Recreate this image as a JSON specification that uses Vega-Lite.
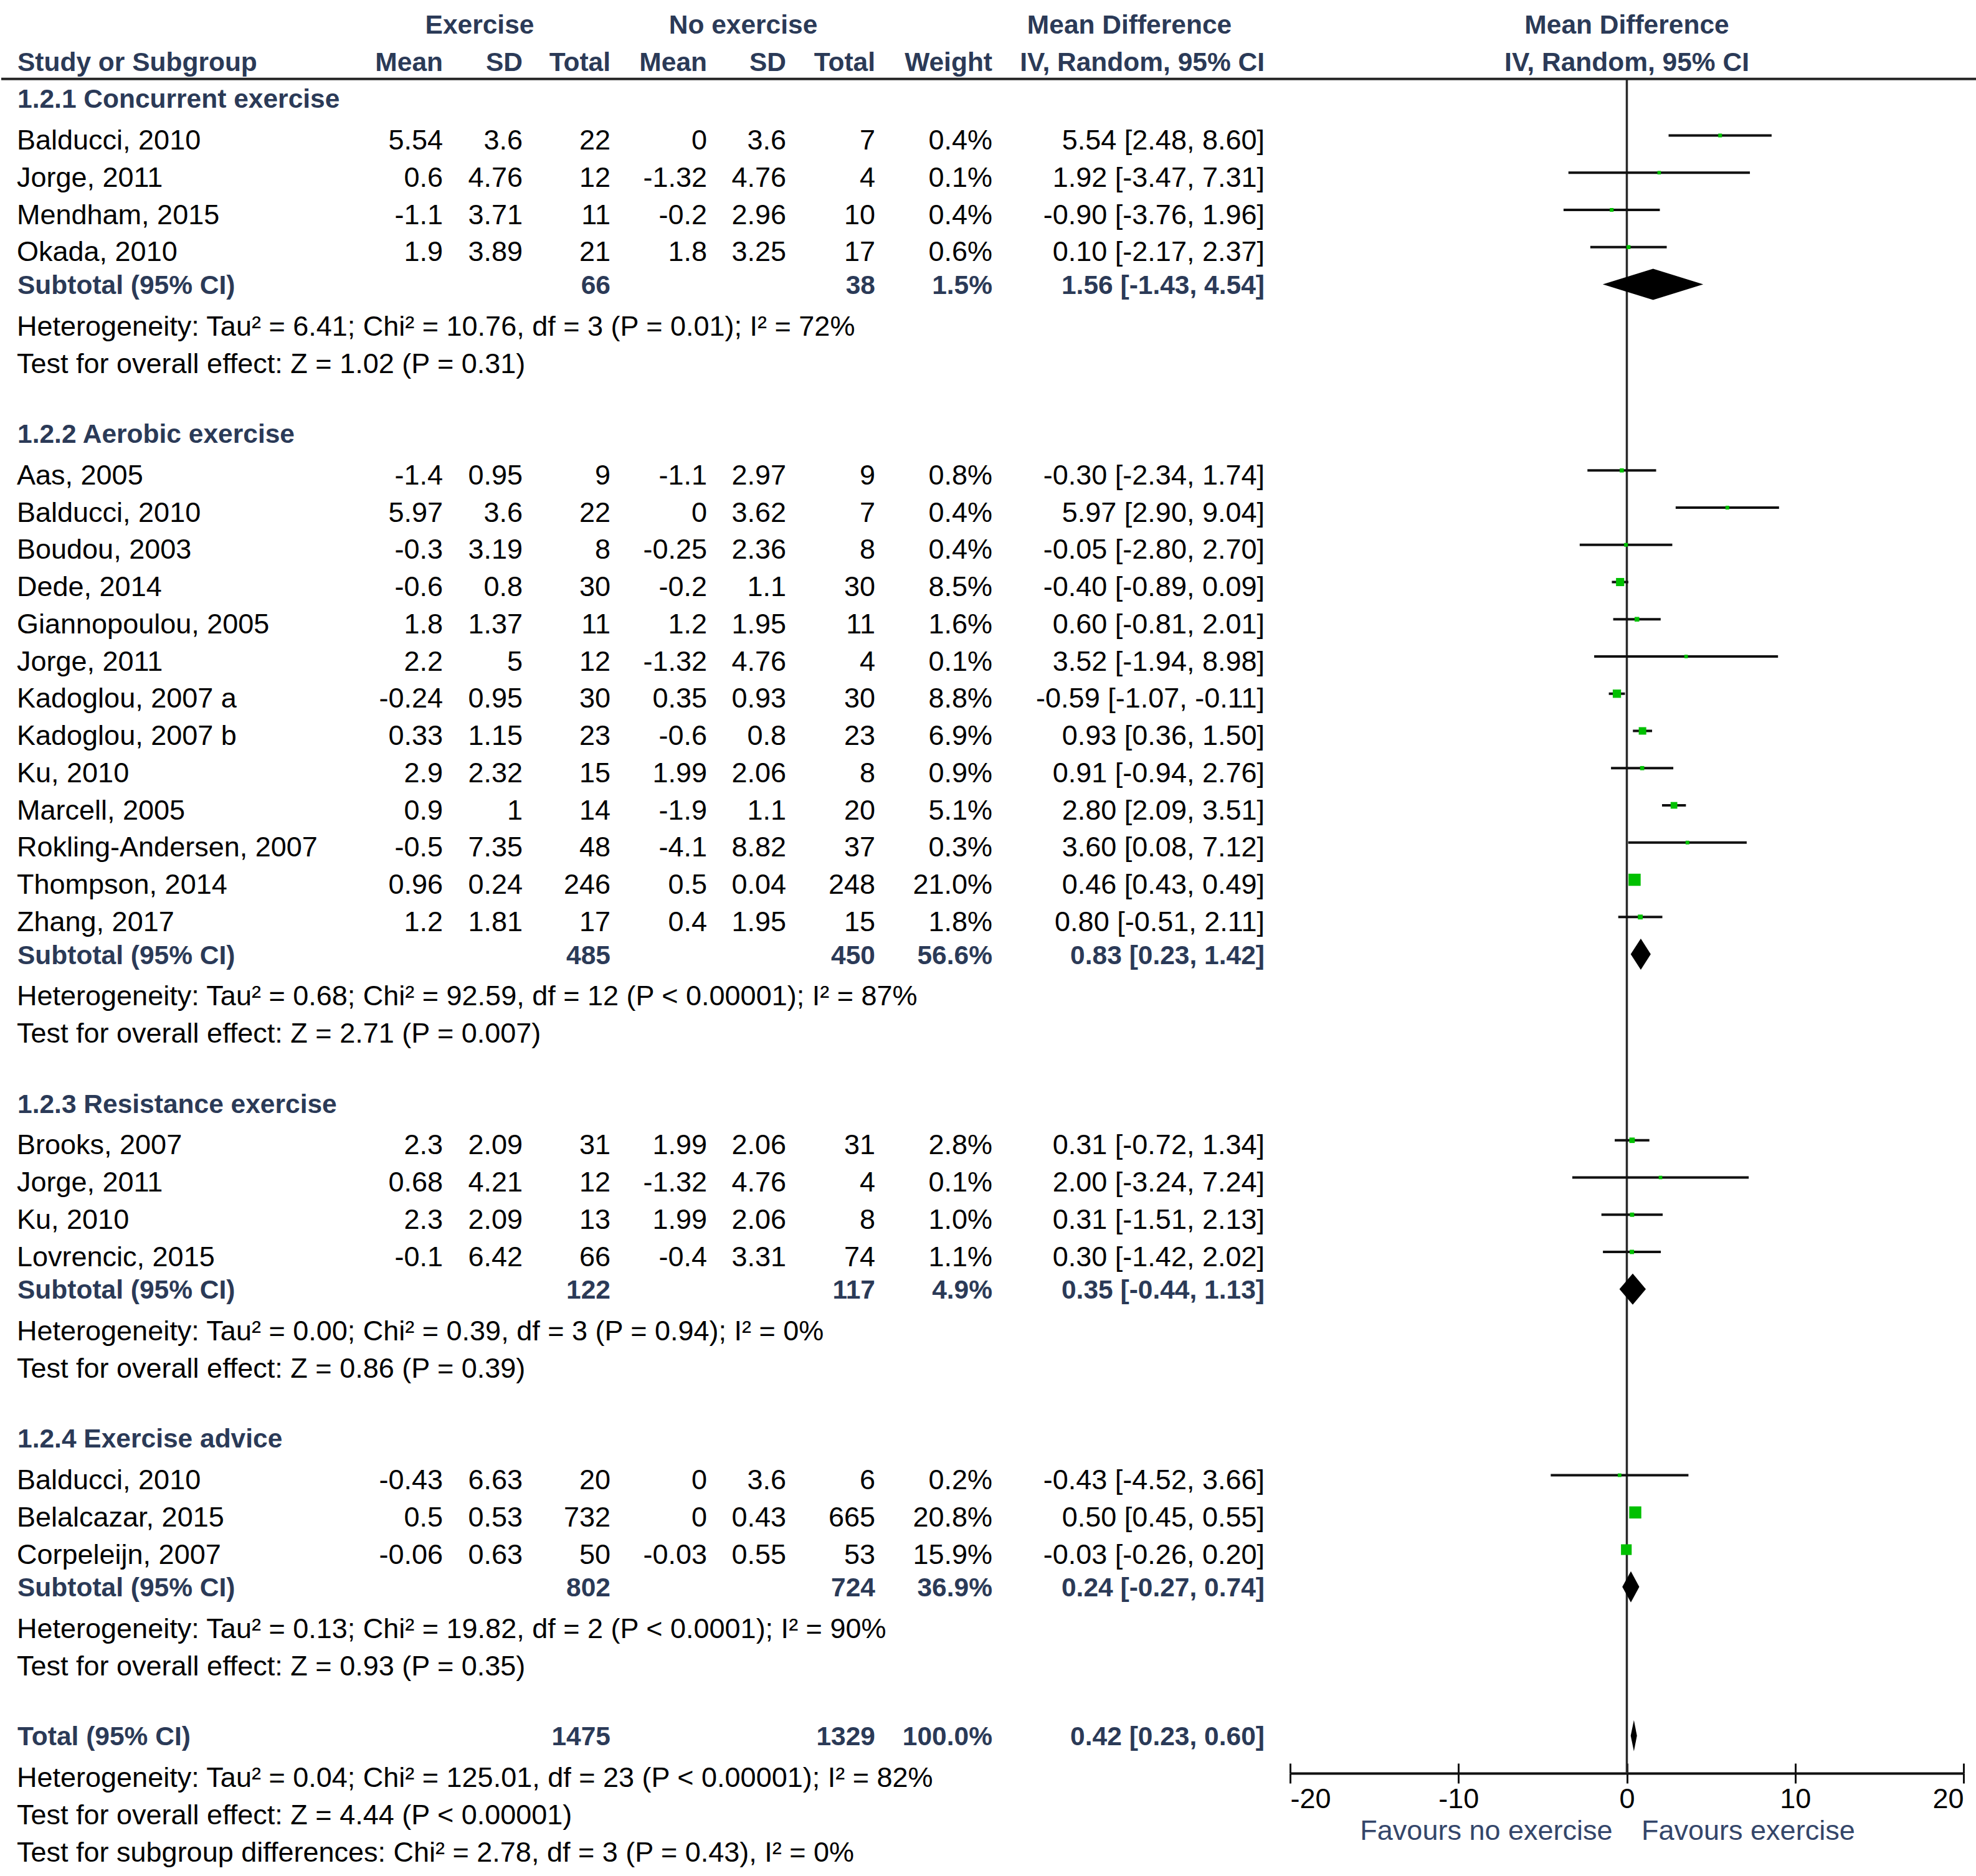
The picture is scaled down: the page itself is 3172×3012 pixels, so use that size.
{
"$schema": "https://vega.github.io/schema/vega-lite/v6.json",
"padding": 0,
"background": "#ffffff",
"spacing": 0,
"bounds": "flush",
"align": "each",
"datasets": {"rows": [
{"r":0,"kind":"top","exHead":"Exercise","ctHead":"No exercise","mdHead":"Mean Difference","ph":"Mean Difference"},
{"r":1,"kind":"header","label":"Study or Subgroup","em":"Mean","es":"SD","en":"Total","cm":"Mean","cs":"SD","cn":"Total","wt":"Weight","ci":"IV, Random, 95% CI","ph":"IV, Random, 95% CI"},
{"r":2,"kind":"group","label":"1.2.1 Concurrent exercise"},
{"r":3,"kind":"study","label":"Balducci, 2010","em":"5.54","es":"3.6","en":"22","cm":"0","cs":"3.6","cn":"7","wt":"0.4%","ci":"5.54 [2.48, 8.60]","w":0.4,"md":5.54,"lo":2.48,"hi":8.60},
{"r":4,"kind":"study","label":"Jorge, 2011","em":"0.6","es":"4.76","en":"12","cm":"-1.32","cs":"4.76","cn":"4","wt":"0.1%","ci":"1.92 [-3.47, 7.31]","w":0.1,"md":1.92,"lo":-3.47,"hi":7.31},
{"r":5,"kind":"study","label":"Mendham, 2015","em":"-1.1","es":"3.71","en":"11","cm":"-0.2","cs":"2.96","cn":"10","wt":"0.4%","ci":"-0.90 [-3.76, 1.96]","w":0.4,"md":-0.90,"lo":-3.76,"hi":1.96},
{"r":6,"kind":"study","label":"Okada, 2010","em":"1.9","es":"3.89","en":"21","cm":"1.8","cs":"3.25","cn":"17","wt":"0.6%","ci":"0.10 [-2.17, 2.37]","w":0.6,"md":0.10,"lo":-2.17,"hi":2.37},
{"r":7,"kind":"subtotal","label":"Subtotal (95% CI)","en":"66","cn":"38","wt":"1.5%","ci":"1.56 [-1.43, 4.54]","md":1.56,"lo":-1.43,"hi":4.54},
{"r":8,"kind":"note","label":"Heterogeneity: Tau² = 6.41; Chi² = 10.76, df = 3 (P = 0.01); I² = 72%"},
{"r":9,"kind":"note","label":"Test for overall effect: Z = 1.02 (P = 0.31)"},
{"r":11,"kind":"group","label":"1.2.2 Aerobic exercise"},
{"r":12,"kind":"study","label":"Aas, 2005","em":"-1.4","es":"0.95","en":"9","cm":"-1.1","cs":"2.97","cn":"9","wt":"0.8%","ci":"-0.30 [-2.34, 1.74]","w":0.8,"md":-0.30,"lo":-2.34,"hi":1.74},
{"r":13,"kind":"study","label":"Balducci, 2010","em":"5.97","es":"3.6","en":"22","cm":"0","cs":"3.62","cn":"7","wt":"0.4%","ci":"5.97 [2.90, 9.04]","w":0.4,"md":5.97,"lo":2.90,"hi":9.04},
{"r":14,"kind":"study","label":"Boudou, 2003","em":"-0.3","es":"3.19","en":"8","cm":"-0.25","cs":"2.36","cn":"8","wt":"0.4%","ci":"-0.05 [-2.80, 2.70]","w":0.4,"md":-0.05,"lo":-2.80,"hi":2.70},
{"r":15,"kind":"study","label":"Dede, 2014","em":"-0.6","es":"0.8","en":"30","cm":"-0.2","cs":"1.1","cn":"30","wt":"8.5%","ci":"-0.40 [-0.89, 0.09]","w":8.5,"md":-0.40,"lo":-0.89,"hi":0.09},
{"r":16,"kind":"study","label":"Giannopoulou, 2005","em":"1.8","es":"1.37","en":"11","cm":"1.2","cs":"1.95","cn":"11","wt":"1.6%","ci":"0.60 [-0.81, 2.01]","w":1.6,"md":0.60,"lo":-0.81,"hi":2.01},
{"r":17,"kind":"study","label":"Jorge, 2011","em":"2.2","es":"5","en":"12","cm":"-1.32","cs":"4.76","cn":"4","wt":"0.1%","ci":"3.52 [-1.94, 8.98]","w":0.1,"md":3.52,"lo":-1.94,"hi":8.98},
{"r":18,"kind":"study","label":"Kadoglou, 2007 a","em":"-0.24","es":"0.95","en":"30","cm":"0.35","cs":"0.93","cn":"30","wt":"8.8%","ci":"-0.59 [-1.07, -0.11]","w":8.8,"md":-0.59,"lo":-1.07,"hi":-0.11},
{"r":19,"kind":"study","label":"Kadoglou, 2007 b","em":"0.33","es":"1.15","en":"23","cm":"-0.6","cs":"0.8","cn":"23","wt":"6.9%","ci":"0.93 [0.36, 1.50]","w":6.9,"md":0.93,"lo":0.36,"hi":1.50},
{"r":20,"kind":"study","label":"Ku, 2010","em":"2.9","es":"2.32","en":"15","cm":"1.99","cs":"2.06","cn":"8","wt":"0.9%","ci":"0.91 [-0.94, 2.76]","w":0.9,"md":0.91,"lo":-0.94,"hi":2.76},
{"r":21,"kind":"study","label":"Marcell, 2005","em":"0.9","es":"1","en":"14","cm":"-1.9","cs":"1.1","cn":"20","wt":"5.1%","ci":"2.80 [2.09, 3.51]","w":5.1,"md":2.80,"lo":2.09,"hi":3.51},
{"r":22,"kind":"study","label":"Rokling-Andersen, 2007","em":"-0.5","es":"7.35","en":"48","cm":"-4.1","cs":"8.82","cn":"37","wt":"0.3%","ci":"3.60 [0.08, 7.12]","w":0.3,"md":3.60,"lo":0.08,"hi":7.12},
{"r":23,"kind":"study","label":"Thompson, 2014","em":"0.96","es":"0.24","en":"246","cm":"0.5","cs":"0.04","cn":"248","wt":"21.0%","ci":"0.46 [0.43, 0.49]","w":21.0,"md":0.46,"lo":0.43,"hi":0.49},
{"r":24,"kind":"study","label":"Zhang, 2017","em":"1.2","es":"1.81","en":"17","cm":"0.4","cs":"1.95","cn":"15","wt":"1.8%","ci":"0.80 [-0.51, 2.11]","w":1.8,"md":0.80,"lo":-0.51,"hi":2.11},
{"r":25,"kind":"subtotal","label":"Subtotal (95% CI)","en":"485","cn":"450","wt":"56.6%","ci":"0.83 [0.23, 1.42]","md":0.83,"lo":0.23,"hi":1.42},
{"r":26,"kind":"note","label":"Heterogeneity: Tau² = 0.68; Chi² = 92.59, df = 12 (P < 0.00001); I² = 87%"},
{"r":27,"kind":"note","label":"Test for overall effect: Z = 2.71 (P = 0.007)"},
{"r":29,"kind":"group","label":"1.2.3 Resistance exercise"},
{"r":30,"kind":"study","label":"Brooks, 2007","em":"2.3","es":"2.09","en":"31","cm":"1.99","cs":"2.06","cn":"31","wt":"2.8%","ci":"0.31 [-0.72, 1.34]","w":2.8,"md":0.31,"lo":-0.72,"hi":1.34},
{"r":31,"kind":"study","label":"Jorge, 2011","em":"0.68","es":"4.21","en":"12","cm":"-1.32","cs":"4.76","cn":"4","wt":"0.1%","ci":"2.00 [-3.24, 7.24]","w":0.1,"md":2.00,"lo":-3.24,"hi":7.24},
{"r":32,"kind":"study","label":"Ku, 2010","em":"2.3","es":"2.09","en":"13","cm":"1.99","cs":"2.06","cn":"8","wt":"1.0%","ci":"0.31 [-1.51, 2.13]","w":1.0,"md":0.31,"lo":-1.51,"hi":2.13},
{"r":33,"kind":"study","label":"Lovrencic, 2015","em":"-0.1","es":"6.42","en":"66","cm":"-0.4","cs":"3.31","cn":"74","wt":"1.1%","ci":"0.30 [-1.42, 2.02]","w":1.1,"md":0.30,"lo":-1.42,"hi":2.02},
{"r":34,"kind":"subtotal","label":"Subtotal (95% CI)","en":"122","cn":"117","wt":"4.9%","ci":"0.35 [-0.44, 1.13]","md":0.35,"lo":-0.44,"hi":1.13},
{"r":35,"kind":"note","label":"Heterogeneity: Tau² = 0.00; Chi² = 0.39, df = 3 (P = 0.94); I² = 0%"},
{"r":36,"kind":"note","label":"Test for overall effect: Z = 0.86 (P = 0.39)"},
{"r":38,"kind":"group","label":"1.2.4 Exercise advice"},
{"r":39,"kind":"study","label":"Balducci, 2010","em":"-0.43","es":"6.63","en":"20","cm":"0","cs":"3.6","cn":"6","wt":"0.2%","ci":"-0.43 [-4.52, 3.66]","w":0.2,"md":-0.43,"lo":-4.52,"hi":3.66},
{"r":40,"kind":"study","label":"Belalcazar, 2015","em":"0.5","es":"0.53","en":"732","cm":"0","cs":"0.43","cn":"665","wt":"20.8%","ci":"0.50 [0.45, 0.55]","w":20.8,"md":0.50,"lo":0.45,"hi":0.55},
{"r":41,"kind":"study","label":"Corpeleijn, 2007","em":"-0.06","es":"0.63","en":"50","cm":"-0.03","cs":"0.55","cn":"53","wt":"15.9%","ci":"-0.03 [-0.26, 0.20]","w":15.9,"md":-0.03,"lo":-0.26,"hi":0.20},
{"r":42,"kind":"subtotal","label":"Subtotal (95% CI)","en":"802","cn":"724","wt":"36.9%","ci":"0.24 [-0.27, 0.74]","md":0.24,"lo":-0.27,"hi":0.74},
{"r":43,"kind":"note","label":"Heterogeneity: Tau² = 0.13; Chi² = 19.82, df = 2 (P < 0.0001); I² = 90%"},
{"r":44,"kind":"note","label":"Test for overall effect: Z = 0.93 (P = 0.35)"},
{"r":46,"kind":"total","label":"Total (95% CI)","en":"1475","cn":"1329","wt":"100.0%","ci":"0.42 [0.23, 0.60]","md":0.42,"lo":0.23,"hi":0.60},
{"r":47,"kind":"note","label":"Heterogeneity: Tau² = 0.04; Chi² = 125.01, df = 23 (P < 0.00001); I² = 82%"},
{"r":48,"kind":"note","label":"Test for overall effect: Z = 4.44 (P < 0.00001)"},
{"r":49,"kind":"note","label":"Test for subgroup differences: Chi² = 2.78, df = 3 (P = 0.43), I² = 0%"}
]},
"data": {"name": "rows"},
"hconcat": [
{"width": 400, "height": 2996, "layer": [
 {"transform": [{"filter": {"field": "kind", "oneOf": ["study", "note"]}}],
  "mark": {"type": "text", "align": "left", "baseline": "alphabetic", "x": 0, "dx": 25, "dy": 22.5, "font": "Liberation Sans", "fontSize": 45, "color": "#000000"},
  "encoding": {"y": {"field": "r", "type": "quantitative", "scale": {"domain": [-0.6402, 49.5006], "reverse": true, "nice": false, "zero": false}, "axis": null}, "text": {"field": "label", "type": "nominal"}}},
 {"transform": [{"filter": {"field": "kind", "oneOf": ["header", "group", "subtotal", "total"]}}],
  "mark": {"type": "text", "align": "left", "baseline": "alphabetic", "x": 0, "dx": 26, "dy": 15.5, "font": "Liberation Sans", "fontSize": 42.5, "fontWeight": "bold", "color": "#2B3A57"},
  "encoding": {"y": {"field": "r", "type": "quantitative", "scale": {"domain": [-0.6402, 49.5006], "reverse": true, "nice": false, "zero": false}, "axis": null}, "text": {"field": "label", "type": "nominal"}}},
 {"transform": [{"filter": {"field": "r", "equal": 1}}],
  "mark": {"type": "rule", "color": "#262626", "strokeWidth": 4},
  "encoding": {"y": {"datum": 1.48, "type": "quantitative", "scale": {"domain": [-0.6402, 49.5006], "reverse": true, "nice": false, "zero": false}, "axis": null}}}
]},
{"width": 309, "height": 2996, "layer": [
 {"transform": [{"filter": {"field": "kind", "equal": "study"}}, {"filter": "isValid(datum.em)"}],
  "mark": {"type": "text", "align": "right", "baseline": "alphabetic", "x": "width", "dy": 22.5, "font": "Liberation Sans", "fontSize": 45, "color": "#000000"},
  "encoding": {"y": {"field": "r", "type": "quantitative", "scale": {"domain": [-0.6402, 49.5006], "reverse": true, "nice": false, "zero": false}, "axis": null}, "text": {"field": "em", "type": "nominal"}}},
 {"transform": [{"filter": {"field": "kind", "oneOf": ["header", "subtotal", "total"]}}, {"filter": "isValid(datum.em)"}],
  "mark": {"type": "text", "align": "right", "baseline": "alphabetic", "x": "width", "dy": 15.5, "font": "Liberation Sans", "fontSize": 42.5, "fontWeight": "bold", "color": "#2B3A57"},
  "encoding": {"y": {"field": "r", "type": "quantitative", "scale": {"domain": [-0.6402, 49.5006], "reverse": true, "nice": false, "zero": false}, "axis": null}, "text": {"field": "em", "type": "nominal"}}},
 {"transform": [{"filter": {"field": "r", "equal": 1}}],
  "mark": {"type": "rule", "color": "#262626", "strokeWidth": 4},
  "encoding": {"y": {"datum": 1.48, "type": "quantitative", "scale": {"domain": [-0.6402, 49.5006], "reverse": true, "nice": false, "zero": false}, "axis": null}}}
]},
{"width": 128, "height": 2996, "layer": [
 {"transform": [{"filter": {"field": "kind", "equal": "study"}}, {"filter": "isValid(datum.es)"}],
  "mark": {"type": "text", "align": "right", "baseline": "alphabetic", "x": "width", "dy": 22.5, "font": "Liberation Sans", "fontSize": 45, "color": "#000000"},
  "encoding": {"y": {"field": "r", "type": "quantitative", "scale": {"domain": [-0.6402, 49.5006], "reverse": true, "nice": false, "zero": false}, "axis": null}, "text": {"field": "es", "type": "nominal"}}},
 {"transform": [{"filter": {"field": "kind", "oneOf": ["header", "subtotal", "total"]}}, {"filter": "isValid(datum.es)"}],
  "mark": {"type": "text", "align": "right", "baseline": "alphabetic", "x": "width", "dy": 15.5, "font": "Liberation Sans", "fontSize": 42.5, "fontWeight": "bold", "color": "#2B3A57"},
  "encoding": {"y": {"field": "r", "type": "quantitative", "scale": {"domain": [-0.6402, 49.5006], "reverse": true, "nice": false, "zero": false}, "axis": null}, "text": {"field": "es", "type": "nominal"}}},
 {"transform": [{"filter": {"field": "kind", "equal": "top"}}],
  "mark": {"type": "text", "align": "center", "baseline": "alphabetic", "x": 0, "dx": 59, "dy": 15.5, "font": "Liberation Sans", "fontSize": 42.5, "fontWeight": "bold", "color": "#2B3A57"},
  "encoding": {"y": {"field": "r", "type": "quantitative", "scale": {"domain": [-0.6402, 49.5006], "reverse": true, "nice": false, "zero": false}, "axis": null}, "text": {"field": "exHead", "type": "nominal"}}},
 {"transform": [{"filter": {"field": "r", "equal": 1}}],
  "mark": {"type": "rule", "color": "#262626", "strokeWidth": 4},
  "encoding": {"y": {"datum": 1.48, "type": "quantitative", "scale": {"domain": [-0.6402, 49.5006], "reverse": true, "nice": false, "zero": false}, "axis": null}}}
]},
{"width": 141, "height": 2996, "layer": [
 {"transform": [{"filter": {"field": "kind", "equal": "study"}}, {"filter": "isValid(datum.en)"}],
  "mark": {"type": "text", "align": "right", "baseline": "alphabetic", "x": "width", "dy": 22.5, "font": "Liberation Sans", "fontSize": 45, "color": "#000000"},
  "encoding": {"y": {"field": "r", "type": "quantitative", "scale": {"domain": [-0.6402, 49.5006], "reverse": true, "nice": false, "zero": false}, "axis": null}, "text": {"field": "en", "type": "nominal"}}},
 {"transform": [{"filter": {"field": "kind", "oneOf": ["header", "subtotal", "total"]}}, {"filter": "isValid(datum.en)"}],
  "mark": {"type": "text", "align": "right", "baseline": "alphabetic", "x": "width", "dy": 15.5, "font": "Liberation Sans", "fontSize": 42.5, "fontWeight": "bold", "color": "#2B3A57"},
  "encoding": {"y": {"field": "r", "type": "quantitative", "scale": {"domain": [-0.6402, 49.5006], "reverse": true, "nice": false, "zero": false}, "axis": null}, "text": {"field": "en", "type": "nominal"}}},
 {"transform": [{"filter": {"field": "r", "equal": 1}}],
  "mark": {"type": "rule", "color": "#262626", "strokeWidth": 4},
  "encoding": {"y": {"datum": 1.48, "type": "quantitative", "scale": {"domain": [-0.6402, 49.5006], "reverse": true, "nice": false, "zero": false}, "axis": null}}}
]},
{"width": 155, "height": 2996, "layer": [
 {"transform": [{"filter": {"field": "kind", "equal": "study"}}, {"filter": "isValid(datum.cm)"}],
  "mark": {"type": "text", "align": "right", "baseline": "alphabetic", "x": "width", "dy": 22.5, "font": "Liberation Sans", "fontSize": 45, "color": "#000000"},
  "encoding": {"y": {"field": "r", "type": "quantitative", "scale": {"domain": [-0.6402, 49.5006], "reverse": true, "nice": false, "zero": false}, "axis": null}, "text": {"field": "cm", "type": "nominal"}}},
 {"transform": [{"filter": {"field": "kind", "oneOf": ["header", "subtotal", "total"]}}, {"filter": "isValid(datum.cm)"}],
  "mark": {"type": "text", "align": "right", "baseline": "alphabetic", "x": "width", "dy": 15.5, "font": "Liberation Sans", "fontSize": 42.5, "fontWeight": "bold", "color": "#2B3A57"},
  "encoding": {"y": {"field": "r", "type": "quantitative", "scale": {"domain": [-0.6402, 49.5006], "reverse": true, "nice": false, "zero": false}, "axis": null}, "text": {"field": "cm", "type": "nominal"}}},
 {"transform": [{"filter": {"field": "r", "equal": 1}}],
  "mark": {"type": "rule", "color": "#262626", "strokeWidth": 4},
  "encoding": {"y": {"datum": 1.48, "type": "quantitative", "scale": {"domain": [-0.6402, 49.5006], "reverse": true, "nice": false, "zero": false}, "axis": null}}}
]},
{"width": 127, "height": 2996, "layer": [
 {"transform": [{"filter": {"field": "kind", "equal": "study"}}, {"filter": "isValid(datum.cs)"}],
  "mark": {"type": "text", "align": "right", "baseline": "alphabetic", "x": "width", "dy": 22.5, "font": "Liberation Sans", "fontSize": 45, "color": "#000000"},
  "encoding": {"y": {"field": "r", "type": "quantitative", "scale": {"domain": [-0.6402, 49.5006], "reverse": true, "nice": false, "zero": false}, "axis": null}, "text": {"field": "cs", "type": "nominal"}}},
 {"transform": [{"filter": {"field": "kind", "oneOf": ["header", "subtotal", "total"]}}, {"filter": "isValid(datum.cs)"}],
  "mark": {"type": "text", "align": "right", "baseline": "alphabetic", "x": "width", "dy": 15.5, "font": "Liberation Sans", "fontSize": 42.5, "fontWeight": "bold", "color": "#2B3A57"},
  "encoding": {"y": {"field": "r", "type": "quantitative", "scale": {"domain": [-0.6402, 49.5006], "reverse": true, "nice": false, "zero": false}, "axis": null}, "text": {"field": "cs", "type": "nominal"}}},
 {"transform": [{"filter": {"field": "kind", "equal": "top"}}],
  "mark": {"type": "text", "align": "center", "baseline": "alphabetic", "x": 0, "dx": 58, "dy": 15.5, "font": "Liberation Sans", "fontSize": 42.5, "fontWeight": "bold", "color": "#2B3A57"},
  "encoding": {"y": {"field": "r", "type": "quantitative", "scale": {"domain": [-0.6402, 49.5006], "reverse": true, "nice": false, "zero": false}, "axis": null}, "text": {"field": "ctHead", "type": "nominal"}}},
 {"transform": [{"filter": {"field": "r", "equal": 1}}],
  "mark": {"type": "rule", "color": "#262626", "strokeWidth": 4},
  "encoding": {"y": {"datum": 1.48, "type": "quantitative", "scale": {"domain": [-0.6402, 49.5006], "reverse": true, "nice": false, "zero": false}, "axis": null}}}
]},
{"width": 143, "height": 2996, "layer": [
 {"transform": [{"filter": {"field": "kind", "equal": "study"}}, {"filter": "isValid(datum.cn)"}],
  "mark": {"type": "text", "align": "right", "baseline": "alphabetic", "x": "width", "dy": 22.5, "font": "Liberation Sans", "fontSize": 45, "color": "#000000"},
  "encoding": {"y": {"field": "r", "type": "quantitative", "scale": {"domain": [-0.6402, 49.5006], "reverse": true, "nice": false, "zero": false}, "axis": null}, "text": {"field": "cn", "type": "nominal"}}},
 {"transform": [{"filter": {"field": "kind", "oneOf": ["header", "subtotal", "total"]}}, {"filter": "isValid(datum.cn)"}],
  "mark": {"type": "text", "align": "right", "baseline": "alphabetic", "x": "width", "dy": 15.5, "font": "Liberation Sans", "fontSize": 42.5, "fontWeight": "bold", "color": "#2B3A57"},
  "encoding": {"y": {"field": "r", "type": "quantitative", "scale": {"domain": [-0.6402, 49.5006], "reverse": true, "nice": false, "zero": false}, "axis": null}, "text": {"field": "cn", "type": "nominal"}}},
 {"transform": [{"filter": {"field": "r", "equal": 1}}],
  "mark": {"type": "rule", "color": "#262626", "strokeWidth": 4},
  "encoding": {"y": {"datum": 1.48, "type": "quantitative", "scale": {"domain": [-0.6402, 49.5006], "reverse": true, "nice": false, "zero": false}, "axis": null}}}
]},
{"width": 188, "height": 2996, "layer": [
 {"transform": [{"filter": {"field": "kind", "equal": "study"}}, {"filter": "isValid(datum.wt)"}],
  "mark": {"type": "text", "align": "right", "baseline": "alphabetic", "x": "width", "dy": 22.5, "font": "Liberation Sans", "fontSize": 45, "color": "#000000"},
  "encoding": {"y": {"field": "r", "type": "quantitative", "scale": {"domain": [-0.6402, 49.5006], "reverse": true, "nice": false, "zero": false}, "axis": null}, "text": {"field": "wt", "type": "nominal"}}},
 {"transform": [{"filter": {"field": "kind", "oneOf": ["header", "subtotal", "total"]}}, {"filter": "isValid(datum.wt)"}],
  "mark": {"type": "text", "align": "right", "baseline": "alphabetic", "x": "width", "dy": 15.5, "font": "Liberation Sans", "fontSize": 42.5, "fontWeight": "bold", "color": "#2B3A57"},
  "encoding": {"y": {"field": "r", "type": "quantitative", "scale": {"domain": [-0.6402, 49.5006], "reverse": true, "nice": false, "zero": false}, "axis": null}, "text": {"field": "wt", "type": "nominal"}}},
 {"transform": [{"filter": {"field": "r", "equal": 1}}],
  "mark": {"type": "rule", "color": "#262626", "strokeWidth": 4},
  "encoding": {"y": {"datum": 1.48, "type": "quantitative", "scale": {"domain": [-0.6402, 49.5006], "reverse": true, "nice": false, "zero": false}, "axis": null}}}
]},
{"width": 478, "height": 2996, "layer": [
 {"transform": [{"filter": {"field": "kind", "equal": "study"}}, {"filter": "isValid(datum.ci)"}],
  "mark": {"type": "text", "align": "right", "baseline": "alphabetic", "x": "width", "dx": -41, "dy": 22.5, "font": "Liberation Sans", "fontSize": 45, "color": "#000000"},
  "encoding": {"y": {"field": "r", "type": "quantitative", "scale": {"domain": [-0.6402, 49.5006], "reverse": true, "nice": false, "zero": false}, "axis": null}, "text": {"field": "ci", "type": "nominal"}}},
 {"transform": [{"filter": {"field": "kind", "oneOf": ["header", "subtotal", "total"]}}, {"filter": "isValid(datum.ci)"}],
  "mark": {"type": "text", "align": "right", "baseline": "alphabetic", "x": "width", "dx": -41, "dy": 15.5, "font": "Liberation Sans", "fontSize": 42.5, "fontWeight": "bold", "color": "#2B3A57"},
  "encoding": {"y": {"field": "r", "type": "quantitative", "scale": {"domain": [-0.6402, 49.5006], "reverse": true, "nice": false, "zero": false}, "axis": null}, "text": {"field": "ci", "type": "nominal"}}},
 {"transform": [{"filter": {"field": "kind", "equal": "top"}}],
  "mark": {"type": "text", "align": "center", "baseline": "alphabetic", "x": 0, "dx": 220, "dy": 15.5, "font": "Liberation Sans", "fontSize": 42.5, "fontWeight": "bold", "color": "#2B3A57"},
  "encoding": {"y": {"field": "r", "type": "quantitative", "scale": {"domain": [-0.6402, 49.5006], "reverse": true, "nice": false, "zero": false}, "axis": null}, "text": {"field": "mdHead", "type": "nominal"}}},
 {"transform": [{"filter": {"field": "r", "equal": 1}}],
  "mark": {"type": "rule", "color": "#262626", "strokeWidth": 4},
  "encoding": {"y": {"datum": 1.48, "type": "quantitative", "scale": {"domain": [-0.6402, 49.5006], "reverse": true, "nice": false, "zero": false}, "axis": null}}}
]},
{"width": 1081, "height": 2847,
 "resolve": {"axis": {"x": "independent"}},
 "layer": [
 {"transform": [{"filter": {"field": "r", "equal": 1}}],
  "mark": {"type": "rule", "color": "#2a2a2a", "strokeWidth": 3.5},
  "encoding": {"x": {"datum": 0, "type": "quantitative", "scale": {"domain": [-20, 20], "nice": false, "zero": false}, "axis": null},
   "y": {"datum": 1.48, "type": "quantitative", "scale": {"domain": [-0.6402, 47.008], "reverse": true, "nice": false, "zero": false}, "axis": null},
   "y2": {"datum": 47.008}}},
 {"transform": [{"filter": {"field": "r", "equal": 1}}],
  "mark": {"type": "rule", "color": "#262626", "strokeWidth": 4},
  "encoding": {"x": {"datum": -20, "type": "quantitative", "scale": {"domain": [-20, 20], "nice": false, "zero": false}, "axis": null},
   "x2": {"datum": 20.85},
   "y": {"datum": 1.48, "type": "quantitative", "scale": {"domain": [-0.6402, 47.008], "reverse": true, "nice": false, "zero": false}, "axis": null}}},
 {"transform": [{"filter": {"field": "kind", "equal": "study"}}],
  "mark": {"type": "rule", "color": "#111111", "strokeWidth": 4},
  "encoding": {"x": {"field": "lo", "type": "quantitative", "scale": {"domain": [-20, 20], "nice": false, "zero": false},
     "axis": {"orient": "bottom", "values": [-20, -10, 0, 10, 20], "domain": true, "domainColor": "#111111", "domainWidth": 4, "ticks": true, "tickSize": 16, "tickWidth": 3, "tickColor": "#111111", "labels": true, "labelFont": "Liberation Sans", "labelFontSize": 45, "labelColor": "#000000", "labelPadding": 3, "labelExpr": "'' + datum.value", "labelFlush": true, "labelOverlap": false, "grid": false,
       "title": "Favours no exercise\u00a0\u00a0\u00a0\u2009Favours exercise", "titleFont": "Liberation Sans", "titleFontSize": 45, "titleFontWeight": "normal", "titleColor": "#34466A", "titleX": 509, "titleY": 106, "titleBaseline": "alphabetic", "titleAlign": "center"}},
   "x2": {"field": "hi"},
   "y": {"field": "r", "type": "quantitative", "scale": {"domain": [-0.6402, 47.008], "reverse": true, "nice": false, "zero": false}, "axis": null}}},
 {"transform": [{"filter": {"field": "kind", "equal": "study"}}],
  "mark": {"type": "point", "shape": "square", "filled": true, "opacity": 1, "color": "#00C000", "strokeWidth": 0},
  "encoding": {"x": {"field": "md", "type": "quantitative", "scale": {"domain": [-20, 20], "nice": false, "zero": false},
     "axis": {"orient": "bottom", "offset": -16, "values": [-20, -10, 0, 10, 20], "domain": false, "ticks": true, "tickSize": 16, "tickWidth": 3, "tickColor": "#111111", "labels": false, "grid": false, "title": null}},
   "y": {"field": "r", "type": "quantitative", "scale": {"domain": [-0.6402, 47.008], "reverse": true, "nice": false, "zero": false}, "axis": null},
   "size": {"field": "w", "type": "quantitative", "scale": {"type": "linear", "domain": [0, 21], "range": [30, 380]}, "legend": null}}},
 {"transform": [{"filter": {"field": "kind", "oneOf": ["subtotal", "total"]}}, {"fold": ["lo", "md", "hi"], "as": ["pt", "xv"]}, {"calculate": "datum.pt === 'md' ? 0.42 : 0", "as": "h"}, {"calculate": "datum.r - datum.h", "as": "ya"}, {"calculate": "datum.r + datum.h", "as": "yb"}],
  "mark": {"type": "area", "orient": "vertical", "color": "#000000", "opacity": 1},
  "encoding": {"x": {"field": "xv", "type": "quantitative", "scale": {"domain": [-20, 20], "nice": false, "zero": false}, "axis": null},
   "y": {"field": "ya", "type": "quantitative", "stack": null, "scale": {"domain": [-0.6402, 47.008], "reverse": true, "nice": false, "zero": false}, "axis": null},
   "y2": {"field": "yb"},
   "detail": {"field": "r", "type": "nominal"}}},
 {"transform": [{"filter": {"field": "kind", "oneOf": ["top", "header"]}}],
  "mark": {"type": "text", "align": "center", "baseline": "alphabetic", "dy": 15.5, "font": "Liberation Sans", "fontSize": 42.5, "fontWeight": "bold", "color": "#2B3A57"},
  "encoding": {"x": {"datum": 0, "type": "quantitative", "scale": {"domain": [-20, 20], "nice": false, "zero": false}, "axis": null},
   "y": {"field": "r", "type": "quantitative", "scale": {"domain": [-0.6402, 47.008], "reverse": true, "nice": false, "zero": false}, "axis": null},
   "text": {"field": "ph", "type": "nominal"}}}
]}
],
"config": {"view": {"stroke": null}, "text": {"font": "Liberation Sans"}}
}
